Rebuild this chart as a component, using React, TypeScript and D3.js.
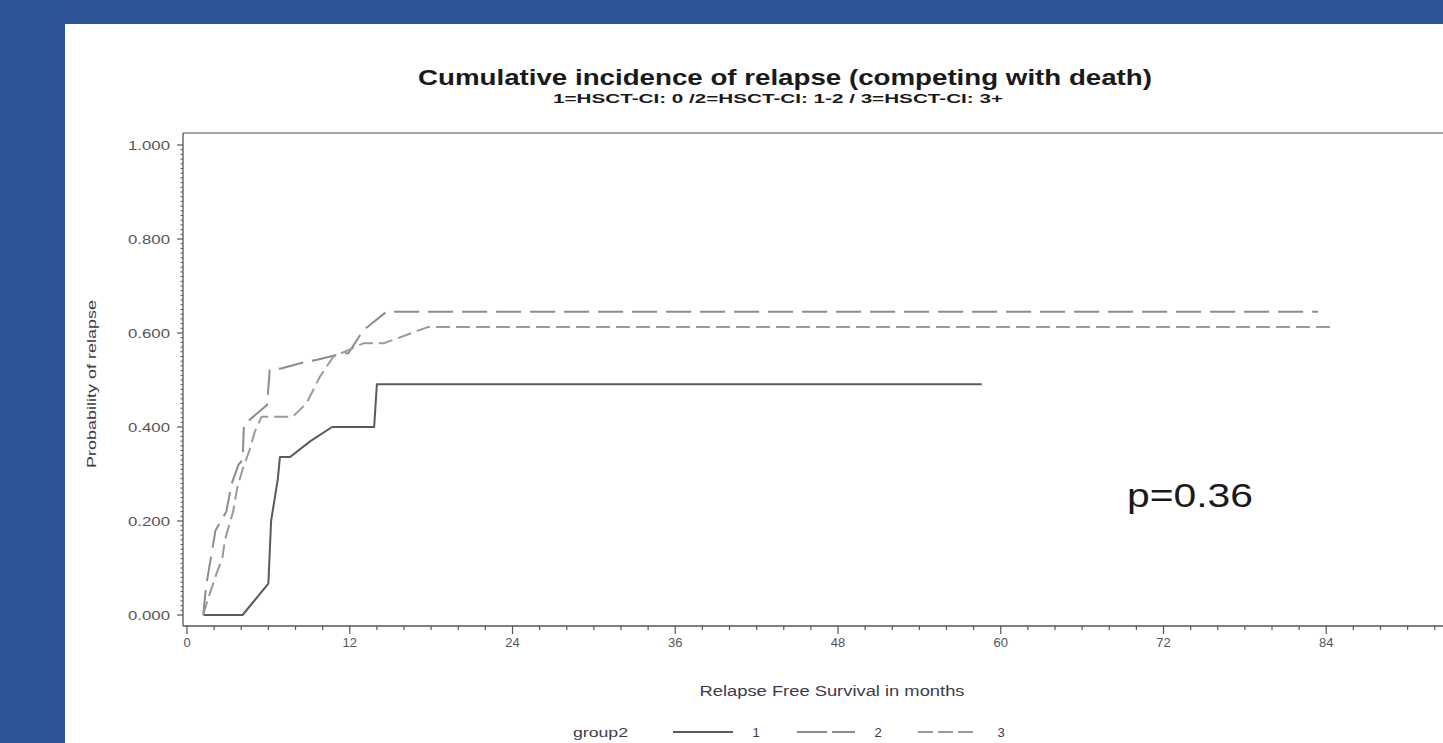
import React from "react";
import * as d3 from "d3";

const xMajorTicks = [0, 12, 24, 36, 48, 60, 72, 84];
const yMajorTicks = [0, 0.2, 0.4, 0.6, 0.8, 1.0];

const group1Months = [1.2, 4.1, 6.0, 6.2, 6.7, 6.85, 7.6, 9.1, 10.7, 13.8, 14.0, 58.6];
const group1Values = [0, 0, 0.067, 0.2, 0.29, 0.336, 0.336, 0.37, 0.4, 0.4, 0.491, 0.491];

const group2Months = [1.2, 1.4, 2.1, 2.9, 3.3, 3.8, 4.1, 4.2, 5.9, 6.1, 7.0, 8.8, 9.6, 11.5, 11.9, 13.0, 14.7, 83.4];
const group2Values = [0, 0.06, 0.18, 0.22, 0.28, 0.32, 0.33, 0.405, 0.447, 0.521, 0.525, 0.539, 0.543, 0.557, 0.557, 0.606, 0.645, 0.645];

const group3Months = [1.2, 1.5, 2.2, 2.6, 2.8, 3.0, 3.4, 3.7, 4.1, 4.6, 5.0, 5.5, 7.8, 8.8, 9.8, 10.8, 11.6, 13.0, 14.5, 17.8, 84.3];
const group3Values = [0, 0.03, 0.09, 0.12, 0.16, 0.18, 0.22, 0.27, 0.31, 0.35, 0.39, 0.422, 0.422, 0.45, 0.507, 0.55, 0.56, 0.578, 0.578, 0.613, 0.613];

const legendLabels = ["1", "2", "3"];

const W = 1443;
const H = 743;
const FONT = "'Liberation Sans', Arial, sans-serif";

export default function App() {
  const x = d3.scaleLinear().domain([0, 96]).range([187, 1489]);
  const y = d3.scaleLinear().domain([0, 1]).range([615, 145]);

  const line = d3
    .line<[number, number]>()
    .x((d) => x(d[0]))
    .y((d) => y(d[1]));

  const zip = (a: number[], b: number[]) => a.map((v, i) => [v, b[i]] as [number, number]);

  const series = [
    { pts: zip(group1Months, group1Values), color: "#5a5a5a", dash: "none" },
    { pts: zip(group2Months, group2Values), color: "#8c8c8c", dash: "25 9" },
    { pts: zip(group3Months, group3Values), color: "#9a9a9a", dash: "14 6" },
  ];

  const xMinor = d3.range(0, 97, 2).filter((v) => v % 12 !== 0);
  const yMinor = d3.range(0, 101, 1).map((v) => v / 100).filter((v) => Math.round(v * 100) % 20 !== 0);

  const left = 183;
  const top = 133;
  const bottom = 626;
  const right = 1492;

  return (
    <div style={{ position: "absolute", left: 0, top: 0 }}>
      <svg width={W} height={H} style={{ display: "block" }}>
        <rect x={0} y={0} width={W} height={H} fill="#2e5597" />
        <rect x={65} y={24} width={W - 65} height={H - 24} fill="#ffffff" />

        {/* Titles */}
        <text x={785} y={85} textAnchor="middle" fontFamily={FONT} fontWeight="bold" fontSize={22} fill="#1a1a1a" textLength={734} lengthAdjust="spacingAndGlyphs">
          Cumulative incidence of relapse (competing with death)
        </text>
        <text x={778} y={103} textAnchor="middle" fontFamily={FONT} fontWeight="bold" fontSize={13} fill="#1a1a1a" textLength={450} lengthAdjust="spacingAndGlyphs">
          1=HSCT-CI: 0 /2=HSCT-CI: 1-2 / 3=HSCT-CI: 3+
        </text>

        {/* Frame */}
        <line x1={left} y1={top} x2={right} y2={top} stroke="#888" strokeWidth={1.3} />
        <line x1={left} y1={top} x2={left} y2={bottom} stroke="#555" strokeWidth={1.3} />
        <line x1={left} y1={bottom} x2={right} y2={bottom} stroke="#555" strokeWidth={1.3} />

        {/* Y ticks */}
        {yMinor.map((v) => (
          <line key={"ym" + v} x1={left - 2.5} x2={left} y1={y(v)} y2={y(v)} stroke="#555" strokeWidth={1} />
        ))}
        {yMajorTicks.map((v) => (
          <g key={"y" + v}>
            <line x1={left - 6} x2={left} y1={y(v)} y2={y(v)} stroke="#555" strokeWidth={1.2} />
            <text x={170} y={y(v)} dy="0.35em" textAnchor="end" fontFamily={FONT} fontSize={13} fill="#555" textLength={42} lengthAdjust="spacingAndGlyphs">
              {d3.format(".3f")(v)}
            </text>
          </g>
        ))}

        {/* X ticks */}
        {xMinor.map((v) => (
          <line key={"xm" + v} x1={x(v)} x2={x(v)} y1={bottom} y2={bottom + 4} stroke="#555" strokeWidth={1.2} />
        ))}
        {xMajorTicks.map((v) => (
          <g key={"x" + v}>
            <line x1={x(v)} x2={x(v)} y1={bottom} y2={bottom + 8} stroke="#555" strokeWidth={1.2} />
            <text x={x(v)} y={647} textAnchor="middle" fontFamily={FONT} fontSize={13} fill="#555">
              {v}
            </text>
          </g>
        ))}

        {/* Axis labels */}
        <text x={832} y={696} textAnchor="middle" fontFamily={FONT} fontSize={14} fill="#3d3a4a" textLength={265} lengthAdjust="spacingAndGlyphs">
          Relapse Free Survival in months
        </text>
        <text transform="translate(96,384) rotate(-90)" textAnchor="middle" fontFamily={FONT} fontSize={13} fill="#3d3a4a" textLength={168} lengthAdjust="spacingAndGlyphs">
          Probability of relapse
        </text>

        {/* Curves */}
        {series.map((s, i) => (
          <path key={"s" + i} d={line(s.pts) || ""} fill="none" stroke={s.color} strokeWidth={2} strokeDasharray={s.dash} strokeLinejoin="round" />
        ))}

        {/* p value */}
        <text x={1127} y={507} fontFamily={FONT} fontSize={33} fill="#1a1a1a" textLength={126} lengthAdjust="spacingAndGlyphs">
          p=0.36
        </text>

        {/* Legend */}
        <text x={573} y={737} fontFamily={FONT} fontSize={13} fill="#3d3a4a" textLength={55} lengthAdjust="spacingAndGlyphs">
          group2
        </text>
        {series.map((s, i) => {
          const x0 = [673, 797, 918][i];
          const x1 = [733, 855, 975][i];
          const lx = [756, 878, 1001][i];
          const dash = ["none", "30 5", "15 5"][i];
          return (
            <g key={"lg" + i}>
              <line x1={x0} x2={x1} y1={732} y2={732} stroke={s.color} strokeWidth={2} strokeDasharray={dash} />
              <text x={lx} y={737} textAnchor="middle" fontFamily={FONT} fontSize={13} fill="#3d3a4a">
                {legendLabels[i]}
              </text>
            </g>
          );
        })}
      </svg>
    </div>
  );
}
